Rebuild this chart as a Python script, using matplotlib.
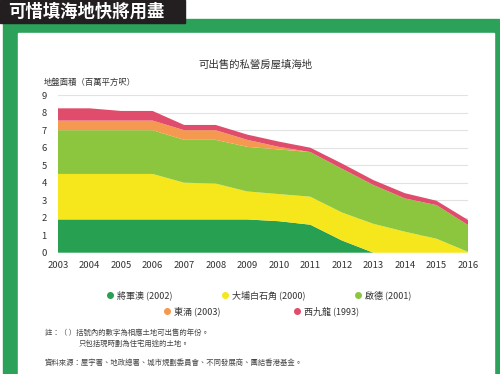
import matplotlib.pyplot as plt
from matplotlib.patches import Rectangle
from matplotlib.lines import Line2D

plt.rcParams['font.family'] = ['Noto Sans CJK TC', 'DejaVu Sans']

years = list(range(2003, 2017))
# 地盤面積（百萬平方呎），由下至上堆疊
tko = [1.9, 1.9, 1.9, 1.9, 1.9, 1.9, 1.9, 1.8, 1.6, 0.7, 0, 0, 0, 0]
pak_shek_kok = [2.6, 2.6, 2.6, 2.6, 2.1, 2.05, 1.6, 1.55, 1.6, 1.6, 1.65, 1.2, 0.8, 0.05]
kai_tak = [2.5, 2.5, 2.5, 2.5, 2.45, 2.5, 2.55, 2.55, 2.55, 2.5, 2.22, 1.9, 1.92, 1.53]
tung_chung = [0.55, 0.55, 0.55, 0.55, 0.55, 0.55, 0.4, 0.15, 0, 0, 0, 0, 0, 0]
west_kowloon = [0.7, 0.7, 0.55, 0.55, 0.3, 0.3, 0.3, 0.3, 0.25, 0.3, 0.28, 0.3, 0.25, 0.29]

labels = ['將軍澳 (2002)', '大埔白石角 (2000)', '啟德 (2001)', '東涌 (2003)', '西九龍 (1993)']
colors = ['#27a052', '#f6e61c', '#8cc63f', '#f4994f', '#e04d6c']

fig = plt.figure(figsize=(5, 3.74), dpi=100)

# 外框
W, H = 500, 374
def px(x, y, w, h, **kw):
    fig.patches.append(Rectangle((x / W, 1 - (y + h) / H), w / W, h / H,
                                 transform=fig.transFigure, **kw))

px(3, 19, 496, 355, color='#2ba15a', zorder=0)
px(18, 33, 476, 345, color='white', zorder=0)
px(0, 0, 185, 23, color='#231f20', zorder=1)
fig.text(8 / W, 1 - 11.5 / H, '可惜填海地快將用盡', color='white', fontsize=12.5,
         fontweight='bold', va='center', ha='left')

ax = fig.add_axes([58 / W, 1 - 252.7 / H, 410 / W, 157.5 / H])
ax.set_zorder(2)
ax.patch.set_alpha(0)
ax.stackplot(years, tko, pak_shek_kok, kai_tak, tung_chung, west_kowloon,
             colors=colors, linewidth=0, zorder=2)
ax.set_xlim(2003, 2016)
ax.set_ylim(0, 9)
ax.set_xticks(years)
ax.set_yticks(range(0, 10))
ax.tick_params(length=0, labelsize=6.8, colors='#333333')
ax.tick_params(axis='y', pad=8)
ax.tick_params(axis='x', pad=6)
ax.grid(axis='y', color='#e2e2e2', linewidth=0.8, zorder=0)
ax.set_axisbelow(True)
for s in ax.spines.values():
    s.set_visible(False)

fig.text(255 / W, 1 - 65 / H, '可出售的私營房屋填海地', fontsize=7.5, ha='center',
         va='center', color='#333333')
fig.text(44 / W, 1 - 82 / H, '地盤面積（百萬平方呎）', fontsize=6, ha='left',
         va='center', color='#333333')

# 圖例
legend_pos = [(110, 295), (225, 295), (358, 295), (167, 311), (297, 311)]
for (lx, ly), lab, c in zip(legend_pos, labels, colors):
    fig.add_artist(Line2D([lx / W], [1 - ly / H], marker='o', markersize=4,
                          color=c, transform=fig.transFigure))
    fig.text((lx + 7) / W, 1 - ly / H, lab, fontsize=6.5, va='center',
             ha='left', color='#333333')

fig.text(45 / W, 1 - 333 / H, '註：（ ）括號內的數字為相應土地可出售的年份。',
         fontsize=5.3, va='center', color='#444444')
fig.text(79 / W, 1 - 344 / H, '只包括現時劃為住宅用途的土地。',
         fontsize=5.3, va='center', color='#444444')
fig.text(45 / W, 1 - 363 / H, '資料來源：屋宇署、地政總署、城市規劃委員會、不同發展商、團結香港基金。',
         fontsize=5.3, va='center', color='#444444')

fig.savefig('out.png', dpi=100)
